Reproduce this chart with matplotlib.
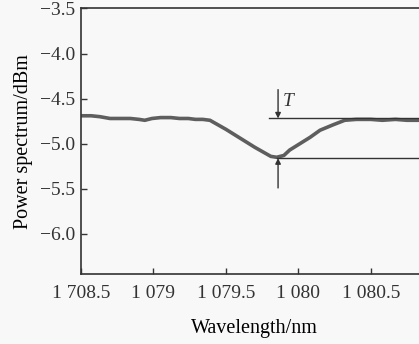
import matplotlib
matplotlib.use("Agg")
import matplotlib.pyplot as plt

BG, LINE, INK = "#f8f8f8", "#5e5e5e", "#333333"

plt.rcParams.update({
    "font.family": ["Liberation Serif", "DejaVu Serif"],
    "font.size": 14,
    "figure.facecolor": BG, "axes.facecolor": BG,
    "savefig.facecolor": BG, "text.color": INK,
    "xtick.color": INK, "ytick.color": INK, "axes.edgecolor": INK,
})

# measured transmission spectrum
wavelength = [1078.50, 1078.57, 1078.63, 1078.70, 1078.77, 1078.84, 1078.90,
              1078.94, 1078.99, 1079.05, 1079.12, 1079.18, 1079.24, 1079.29,
              1079.34, 1079.39, 1079.50, 1079.60, 1079.70, 1079.81, 1079.85,
              1079.90, 1079.94, 1080.01, 1080.08, 1080.15, 1080.24, 1080.32,
              1080.40, 1080.50, 1080.58, 1080.67, 1080.75, 1080.84, 1080.90]
power = [-4.69, -4.69, -4.70, -4.72, -4.72, -4.72, -4.73,
         -4.74, -4.72, -4.71, -4.71, -4.72, -4.72, -4.73,
         -4.73, -4.74, -4.84, -4.94, -5.04, -5.14, -5.15,
         -5.13, -5.07, -5.00, -4.93, -4.85, -4.79, -4.74,
         -4.73, -4.73, -4.74, -4.73, -4.74, -4.74, -4.74]

xticks = [1078.5, 1079.0, 1079.5, 1080.0, 1080.5]
xticklabels = ["1 708.5", "1 079", "1 079.5", "1 080", "1 080.5"]
yticks = [-6.0, -5.5, -5.0, -4.5, -4.0, -3.5]

# depth T of the dip: reference levels and where the marker sits
t_top, t_bottom, t_x = -4.72, -5.16, 1079.86

fig = plt.figure(figsize=(4.19, 3.44), dpi=100)
ax = fig.add_axes([0.1933, 0.2035, 0.83, 0.772])

ax.plot(wavelength, power, color=LINE, linewidth=2.6, solid_capstyle="round")

ax.plot([1079.80, 1081.0], [t_top, t_top], color=INK, linewidth=1.0)
ax.plot([1079.85, 1081.0], [t_bottom, t_bottom], color=INK, linewidth=1.0)
ax.annotate("", xy=(t_x, t_top), xytext=(t_x, t_top + 0.32),
            arrowprops=dict(arrowstyle="-|>", color=INK, linewidth=1.0,
                            mutation_scale=8, shrinkA=0, shrinkB=0))
ax.annotate("", xy=(t_x, t_bottom), xytext=(t_x, t_bottom - 0.33),
            arrowprops=dict(arrowstyle="-|>", color=INK, linewidth=1.0,
                            mutation_scale=8, shrinkA=0, shrinkB=0))
ax.text(t_x + 0.03, t_top + 0.19, "T", fontstyle="italic", fontsize=14,
        ha="left", va="center", color=INK)

ax.set_xlim(1078.5, 1080.9)
ax.set_ylim(-6.444, -3.5)
ax.set_xticks(xticks)
ax.set_xticklabels(xticklabels)
ax.set_yticks(yticks)
ax.set_yticklabels([f"\u2212{abs(v):.1f}" for v in yticks])
ax.tick_params(direction="in", length=4, width=1.0, labelsize=14)
ax.tick_params(axis="x", pad=8)
ax.tick_params(axis="y", pad=4)
ax.spines["right"].set_visible(False)
for side in ("top", "left", "bottom"):
    ax.spines[side].set_linewidth(1.2)

ax.set_xlabel("Wavelength/nm", fontsize=14.5, labelpad=12)
ax.set_ylabel("Power spectrum/dBm", fontsize=14.5, labelpad=5)

fig.savefig("out.png", dpi=100)
